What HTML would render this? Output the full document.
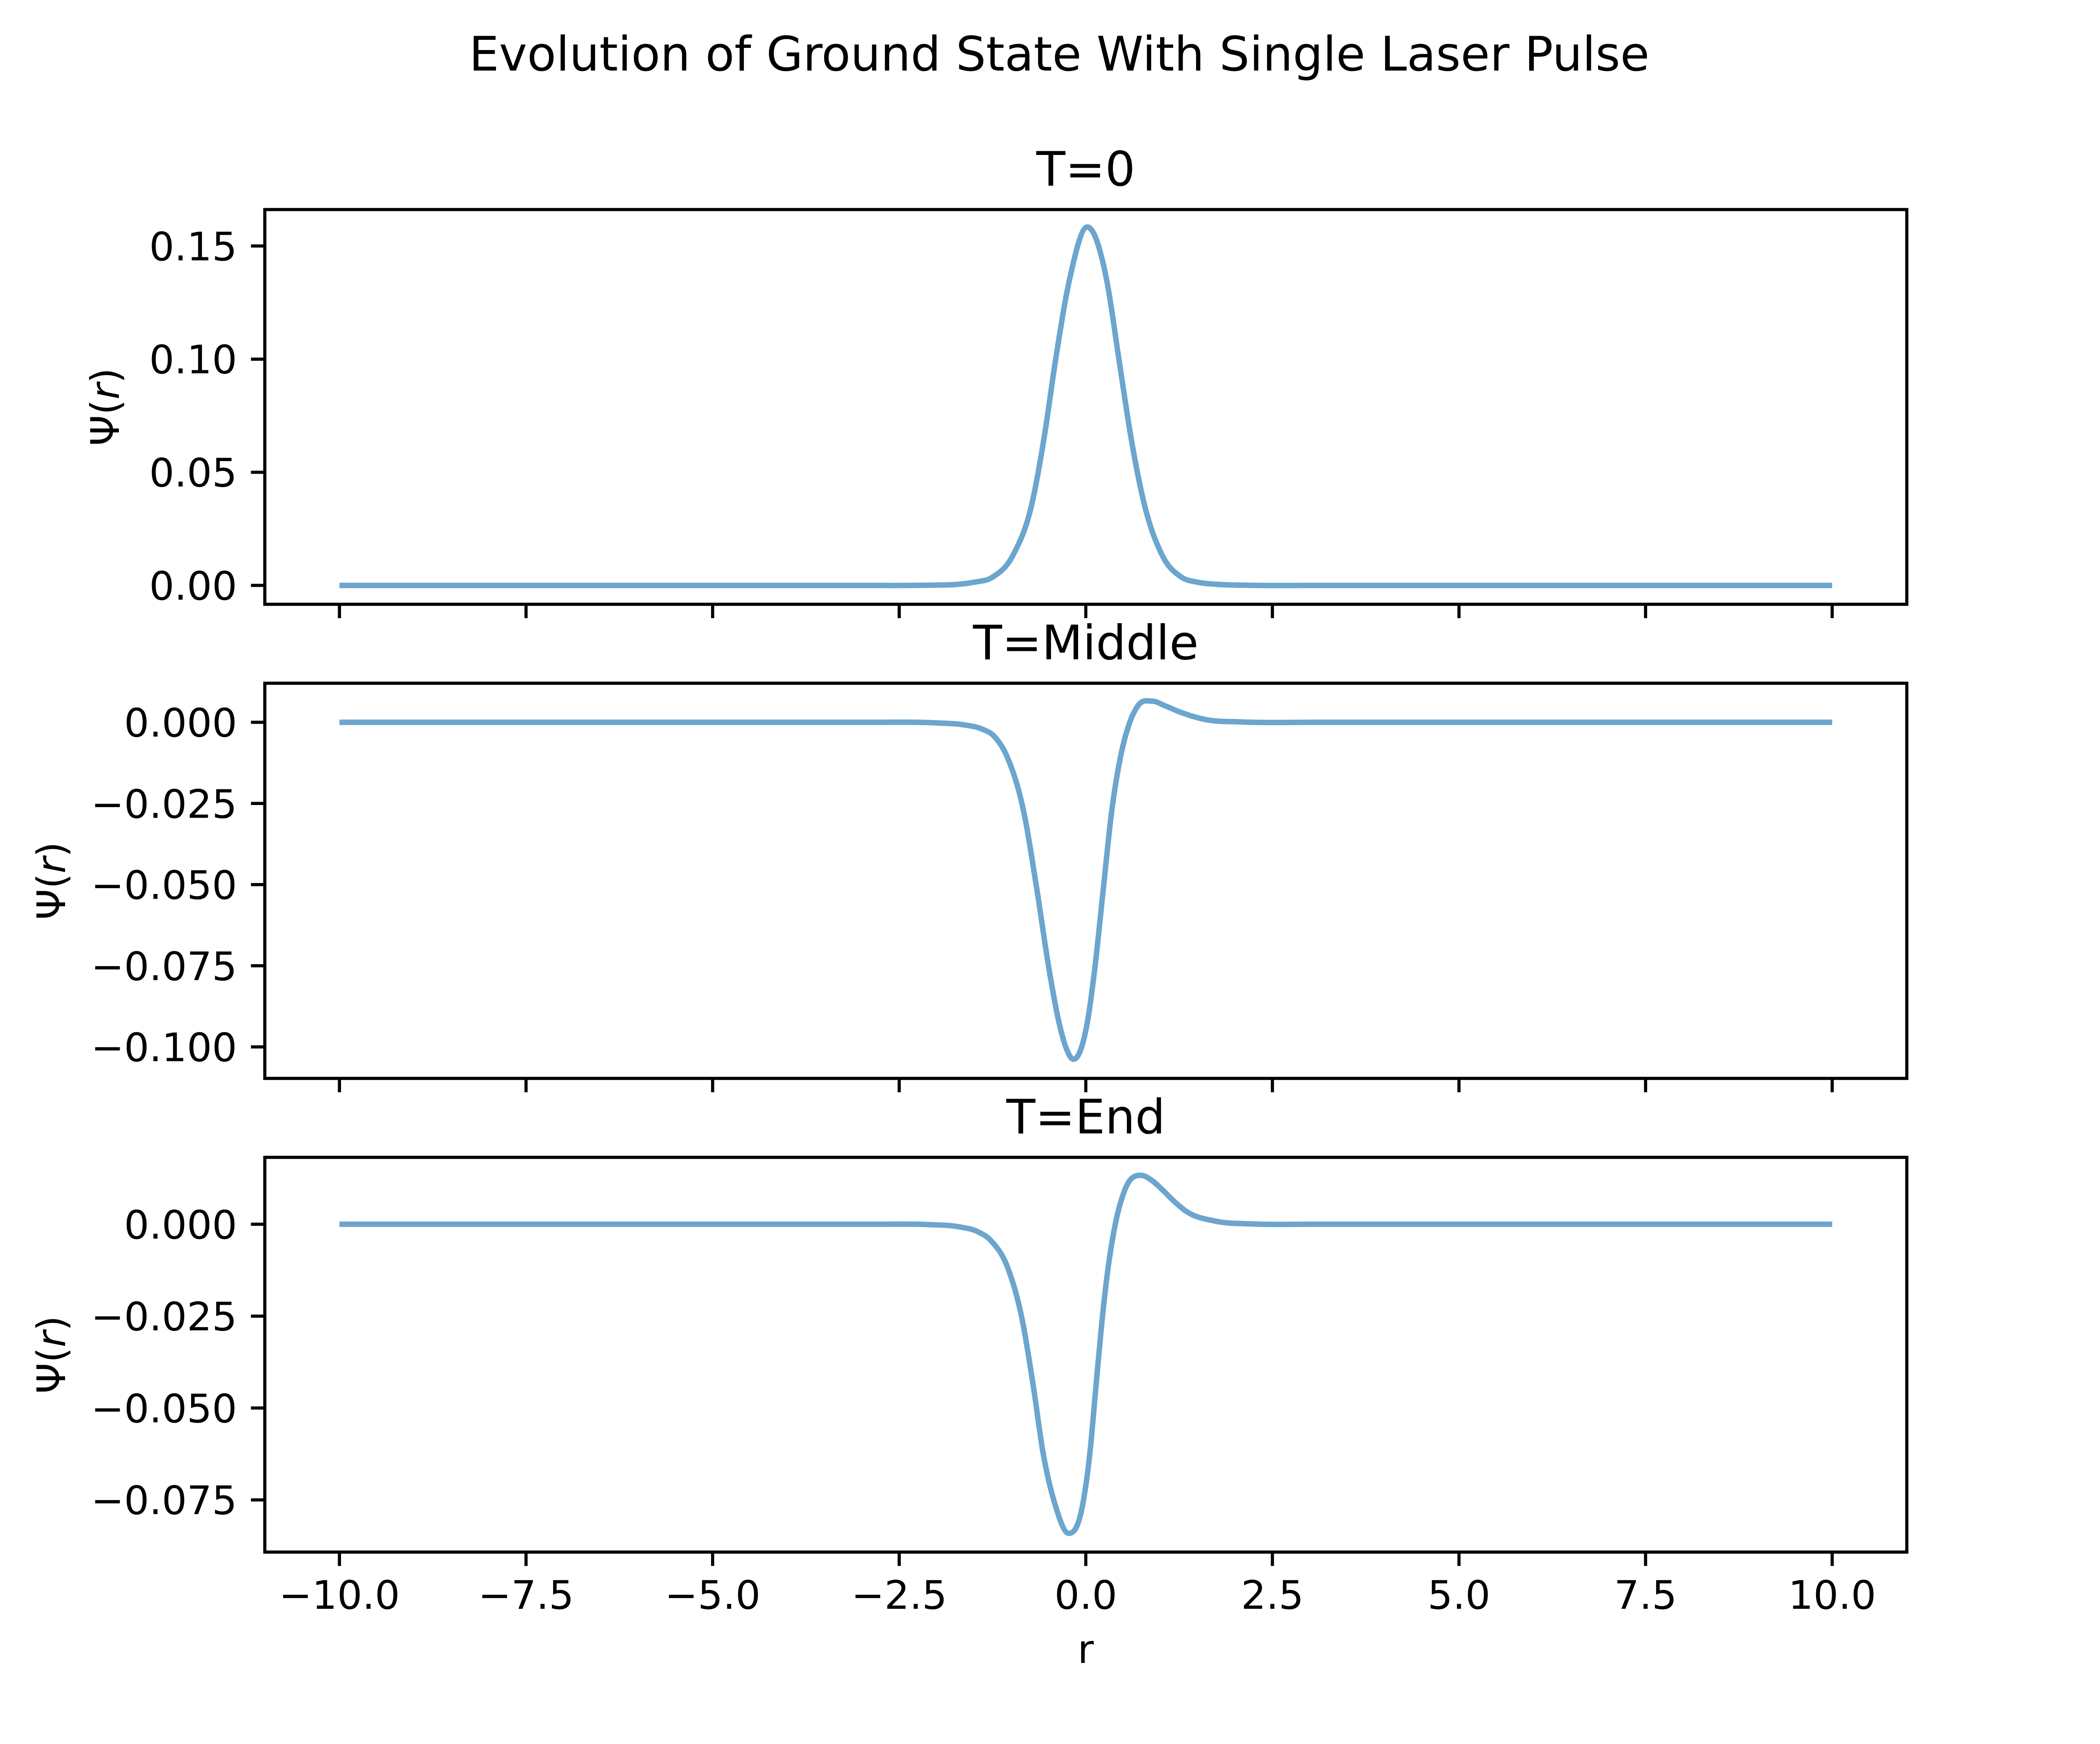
<!DOCTYPE html>
<html><head><meta charset="utf-8"><style>
html,body{margin:0;padding:0;background:#fff}
svg{display:block}
text{font-family:"DejaVu Sans","Liberation Sans",sans-serif;fill:#000}
</style></head><body>
<svg id="chart" xmlns="http://www.w3.org/2000/svg" width="5044" height="4153" viewBox="0 0 5044 4153">
<rect x="0" y="0" width="5044" height="4153" fill="#fff"/>
<text x="2522" y="168" font-size="113" text-anchor="middle">Evolution of Ground State With Single Laser Pulse</text>
<text x="2585" y="3960" font-size="94" text-anchor="middle">r</text>
<g id="plots"></g>
</svg>
<script>
const xTicks = [-10, -7.5, -5, -2.5, 0, 2.5, 5, 7.5, 10];
const xTickLabels = ["\u221210.0","\u22127.5","\u22125.0","\u22122.5","0.0","2.5","5.0","7.5","10.0"];
const panelTitles = ["T=0","T=Middle","T=End"];
const r0 = [-10,-3,-2.1,-1.71,-1.5,-1.253,-0.978,-0.72,-0.558,-0.403,-0.22,0.02,0.28,0.443,0.605,0.78,1.025,1.27,1.5,1.75,2.1,3,10];
const psi0 = [0,0,0.0001,0.0005,0.0014,0.0036,0.0132,0.0364,0.0654,0.1001,0.1349,0.1584,0.1349,0.1001,0.0654,0.0364,0.0132,0.0039,0.0014,0.0005,0.0001,0,0];
const r1 = [-10,-2.8,-2.0,-1.6,-1.4,-1.22,-1.043,-0.833,-0.655,-0.494,-0.364,-0.267,-0.167,-0.057,0.024,0.12,0.233,0.347,0.46,0.589,0.695,0.895,1.05,1.235,1.59,2.1,3,10];
const psi1 = [0,0,-0.0002,-0.0009,-0.002,-0.0045,-0.0112,-0.0274,-0.0516,-0.0759,-0.092,-0.1001,-0.1038,-0.1001,-0.092,-0.0759,-0.0516,-0.0274,-0.0112,0,0.005,0.0065,0.0052,0.0034,0.0009,0.0001,0,0];
const r2 = [-10,-2.8,-2.1,-1.7,-1.45,-1.269,-1.043,-0.849,-0.703,-0.574,-0.413,-0.229,-0.041,0.056,0.136,0.217,0.298,0.395,0.524,0.744,0.88,1.025,1.18,1.332,1.75,2.2,3,10];
const psi2 = [0,0,-0.0001,-0.0007,-0.002,-0.0045,-0.012,-0.0263,-0.0441,-0.062,-0.0762,-0.0841,-0.0762,-0.062,-0.0441,-0.0263,-0.012,0,0.0094,0.0133,0.012,0.0094,0.0063,0.0037,0.0008,0.0001,0,0];
const yTicks0 = [0,0.05,0.10,0.15];
const yTickLabels0 = ["0.00","0.05","0.10","0.15"];
const yTicks1 = [0,-0.025,-0.05,-0.075,-0.1];
const yTickLabels1 = ["0.000","\u22120.025","\u22120.050","\u22120.075","\u22120.100"];
const yTicks2 = [0,-0.025,-0.05,-0.075];
const yTickLabels2 = ["0.000","\u22120.025","\u22120.050","\u22120.075"];
const yRange0 = [-0.00834,0.1661];
const yRange1 = [-0.1097,0.01203];
const yRange2 = [-0.0892,0.0182];
const xRange = [-11,11];

const NS="http://www.w3.org/2000/svg";
const root=document.getElementById('plots');
function mk(tag,attrs,parent){const e=document.createElementNS(NS,tag);for(const k in attrs)e.setAttribute(k,attrs[k]);(parent||root).appendChild(e);return e;}
const L=630.5,R=4540;
const boxes=[[499,1439],[1627,2568],[2756,3696]];
const series=[[r0,psi0],[r1,psi1],[r2,psi2]];
const yt=[[yTicks0,yTickLabels0],[yTicks1,yTickLabels1],[yTicks2,yTickLabels2]];
const yr=[yRange0,yRange1,yRange2];
const ylx=[283,155,155];
function xs(v){return L+(v-xRange[0])/(xRange[1]-xRange[0])*(R-L);}
function smoothPath(px,py){
  const n=px.length,d=[],m=[];
  for(let i=0;i<n-1;i++)d.push((py[i+1]-py[i])/(px[i+1]-px[i]));
  m[0]=0;m[n-1]=0;
  for(let i=1;i<n-1;i++){
    if(d[i-1]*d[i]<=0){m[i]=0;continue;}
    const h0=px[i]-px[i-1],h1=px[i+1]-px[i];m[i]=(h1*d[i-1]+h0*d[i])/(h0+h1);
  }
  let p='M'+px[0].toFixed(1)+','+py[0].toFixed(1);
  for(let i=0;i<n-1;i++){const h=px[i+1]-px[i];p+=' C'+(px[i]+h/3).toFixed(1)+','+(py[i]+m[i]*h/3).toFixed(1)+' '+(px[i+1]-h/3).toFixed(1)+','+(py[i+1]-m[i+1]*h/3).toFixed(1)+' '+px[i+1].toFixed(1)+','+py[i+1].toFixed(1);}
  return p;
}
for(let k=0;k<3;k++){
  const [T,B]=boxes[k];
  const ys=v=>B-(v-yr[k][0])/(yr[k][1]-yr[k][0])*(B-T);
  const g=mk('g',{});
  
  
  const t=mk('text',{x:(L+R)/2,y:T-57,'font-size':113,'text-anchor':'middle'},g);
  t.textContent=panelTitles[k];
  
  
  const [rs,ps]=series[k];
  const path=mk('path',{d:smoothPath(rs.map(xs),ps.map(ys)),fill:'none',stroke:'#6ca5ce','stroke-width':13,'stroke-linejoin':'round'},g);
  
  
  const fr=mk('rect',{x:L,y:T,width:R-L,height:B-T,fill:'none',stroke:'#000','stroke-width':7.5},g);
  
  
  xTicks.forEach((v,i)=>{
    const tk=mk('line',{x1:xs(v),x2:xs(v),y1:B,y2:B+33,stroke:'#000','stroke-width':7.5},g);
    
    
    if(k===2){
      const tl=mk('text',{x:xs(v),y:B+135,'font-size':94,'text-anchor':'middle'},g);
      tl.textContent=xTickLabels[i];
      
      
    }
  });
  yt[k][0].forEach((v,i)=>{
    const tk=mk('line',{x1:L-33,x2:L,y1:ys(v),y2:ys(v),stroke:'#000','stroke-width':7.5},g);
    
    
    const tl=mk('text',{x:L-66,y:ys(v)+34,'font-size':94,'text-anchor':'end'},g);
    tl.textContent=yt[k][1][i];
    
    
  });
  const cy=(T+B)/2;
  const yl=mk('text',{x:ylx[k],y:cy,'font-size':94,'text-anchor':'middle',transform:'rotate(-90 '+ylx[k]+' '+cy+')'},g);
  
  
  yl.appendChild(document.createTextNode('\u03A8('));
  const it=mk('tspan',{'font-style':'italic'},yl);it.textContent='r';
  yl.appendChild(document.createTextNode(')'));
}
</script>
</body></html>
